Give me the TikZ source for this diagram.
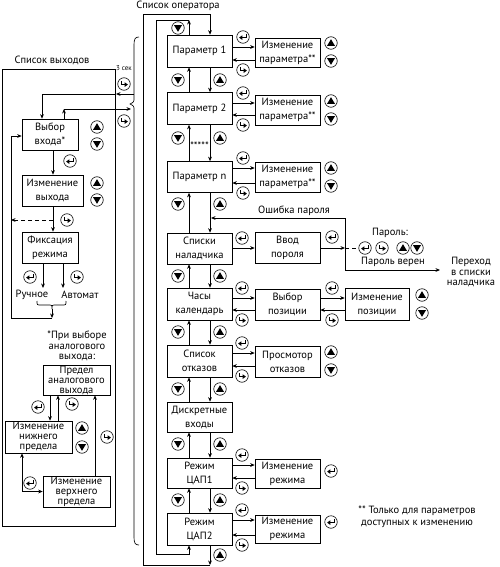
\documentclass[tikz,border=0pt]{standalone}
\usepackage{fontspec}
\setmainfont{PT Sans}
\usetikzlibrary{arrows.meta,calc}
\begin{document}
\begin{tikzpicture}[x=1pt,y=-1pt,
  font=\fontsize{10.5}{14}\selectfont,
  line width=0.65pt,
  >={Stealth[length=4.5pt,width=3.8pt]},
  mb/.style={draw, minimum width=65pt, minimum height=31pt, align=center, inner sep=0pt},
  rb/.style={draw, minimum width=65pt, minimum height=30pt, align=center, inner sep=0pt},
  lbx/.style={draw, minimum width=56pt, minimum height=31pt, align=center, inner sep=0pt},
  pbx/.style={draw, minimum width=67pt, minimum height=31pt, align=center, inner sep=0pt, font=\fontsize{10.5}{10}\selectfont},
  lb/.style={inner sep=0pt, align=center},
  ic/.style={circle, draw, line width=0.6pt, minimum size=12.5pt, inner sep=0pt},
  icu/.style={ic, path picture={\fill[shift={(path picture bounding box.center)}] (0pt,3.8pt) -- (-4pt,-2.9pt) -- (4pt,-2.9pt) -- cycle;}},
  icd/.style={ic, path picture={\fill[shift={(path picture bounding box.center)}] (0pt,-3.8pt) -- (-4pt,2.9pt) -- (4pt,2.9pt) -- cycle;}},
  ice/.style={ic, path picture={\begin{scope}[shift={(path picture bounding box.center)}]
      \draw[line width=0.8pt] (2.9pt,3pt) -- (2.9pt,-0.6pt) -- (-1pt,-0.6pt);
      \fill (-3.9pt,-0.6pt) -- (-0.7pt,1.7pt) -- (-0.7pt,-2.9pt) -- cycle;\end{scope}}},
  icx/.style={ic, path picture={\begin{scope}[shift={(path picture bounding box.center)}]
      \draw[line width=0.8pt] (-2.9pt,3pt) -- (-2.9pt,-0.6pt) -- (1pt,-0.6pt);
      \fill (3.9pt,-0.6pt) -- (0.7pt,1.7pt) -- (0.7pt,-2.9pt) -- cycle;\end{scope}}},
]
\useasboundingbox (0,0) rectangle (499,567);

% ---------- labels ----------
\node[lb] (Lout) at (52,60) {Список выходов};
\node[lb] (Lop) at (178,6) {Список оператора};
\node[lb, font=\fontsize{7}{8}\selectfont] (L3) at (124,68) {3 сек};

% ---------- left frame and brace ----------
\draw (2,69) rectangle (115,526);
\draw (139,37) .. controls (135,37) and (134,39) .. (134,45) -- (134,98)
      .. controls (134,102) .. (130,104) .. controls (134,106) .. (134,110)
      -- (134,537) .. controls (134,543) and (135,545) .. (139,545);
\coordinate (bt1) at (134,94);
\coordinate (bt2) at (131,109);

% ---------- left column ----------
\node[lbx] (Vv) at (50,134.5) {Выбор\\входа*};
\node[lbx, minimum width=61pt] (Iv) at (52.5,190.5) {Изменение\\выхода};
\node[lbx] (Fr) at (50,247.5) {Фиксация\\режима};
\node[icu] (u-Vv) at (97,127) {};
\node[icd] (d-Vv) at (97,144) {};
\node[icu] (u-Iv) at (97,183) {};
\node[icd] (d-Iv) at (97,200) {};
\node[icx] (x-top1) at (124,84) {};
\node[icx] (x-top2) at (124,121) {};
\node[ice] (e-Vv) at (70,161) {};
\node[icx] (x-Iv) at (67,220) {};
\node[ice] (e-Fr) at (30,277) {};
\node[icx] (x-Fr) at (77,277) {};
\node[lb] (Ruch) at (32,295) {Ручное};
\node[lb] (Avt) at (80,295) {Автомат};

\coordinate (m94) at (116,94);
\coordinate (m109) at (64,109);
\draw[->] (bt1) -- (m94);
\draw[->] (m94) -| ([xshift=-8pt]Vv.north);
\draw[->] (Vv.north -| m109) -- (m109);
\draw[->] (m109) -- (bt2);
\draw[->] (Vv.south -| 53,0) -- (Iv.north -| 53,0);
\draw[->] (Iv.south -| 53,0) -- (Fr.north -| 53,0);
\coordinate (dsh) at (53,220);
\coordinate (dshe) at (11,220);
\draw[->, dashed, dash pattern=on 4pt off 3pt] (dsh) -- (dshe);
\coordinate (rA) at (43,288);
\coordinate (rB) at (63,288);
\draw[->] (Fr.south -| rA) -- (rA);
\draw[->] (Fr.south -| rB) -- (rB);
\draw (37,301) .. controls (37,305) .. (41,305) -- (48,305) .. controls (52,305) .. (52,309)
      .. controls (52,305) .. (56,305) -- (62,305) .. controls (66,305) .. (66,301);
\coordinate (brt) at (52,309);
\coordinate (lp) at (52,318);
\draw[->] (brt) -- (lp);
\draw[->] (lp) -- (11,318) -- (11,136) -- (Vv.west |- 0,136);

% ---------- analog output sub-panel ----------
\node[lb, font=\fontsize{10.5}{10.5}\selectfont] (Fn) at (77,346) {*При выборе\\аналогового\\выхода:};
\node[pbx, minimum height=30pt] (Pa) at (76.5,380) {Предел\\аналогового\\выхода};
\node[pbx, minimum height=32pt] (Nn) at (38.5,437) {Изменение\\нижнего\\предела};
\node[pbx] (Vr) at (76.5,491.5) {Изменение\\верхнего\\предела};
\node[ice] (e-Pa) at (38,407) {};
\node[icx] (x-Nn) at (72,404) {};
\node[icu] (u-Nn) at (82,428) {};
\node[icd] (d-Nn) at (82,447) {};
\node[icx] (x-Vr) at (107,437) {};
\node[ice] (e-Vr) at (30,483) {};
\draw[->] (Pa.south -| 50,0) -- (Nn.north -| 50,0);
\draw[->] (Nn.north -| 58,0) -- (Pa.south -| 58,0);
\draw[->] (Vr.north -| 95,0) -- (Pa.south -| 95,0);
\draw[<->] (Nn.south -| 22,0) |- (Vr.west);

% ---------- main column ----------
\node[mb, minimum height=32pt] (P1) at (199.5,51) {Параметр 1};
\node[mb, minimum height=32pt] (P2) at (199.5,108.5) {Параметр 2};
\node[mb] (Pn) at (199.5,177) {Параметр n};
\node[mb] (Sn) at (199.5,248.5) {Списки\\наладчика};
\node[mb, minimum height=32pt] (Ch) at (199.5,304) {Часы\\календарь};
\node[mb, minimum height=32pt] (So) at (199.5,361) {Список\\отказов};
\node[mb, minimum height=30pt] (Di) at (199.5,417) {Дискретные\\входы};
\node[mb, minimum height=30pt] (C1) at (199.5,473) {Режим\\ЦАП1};
\node[mb, minimum height=32pt] (C2) at (199.5,529) {Режим\\ЦАП2};
\node[lb, font=\fontsize{10.5}{10.5}\selectfont] (stars) at (199.5,146) {*****};

\foreach \a/\b in {P1/P2,P2/Pn,Pn/Sn,Sn/Ch,Ch/So,So/Di,Di/C1,C1/C2} {
  \draw[->] ([xshift=-10.5pt]\b.north) -- ([xshift=-10.5pt]\a.south);
  \draw[->] ([xshift=10.5pt]\a.south) -- ([xshift=10.5pt]\b.north);
}
\foreach \n/\y in {1/80,2/138,3/204,4/276,5/332,6/389,7/444,8/500} {
  \node[icd] (dm\n) at (178,\y) {};
  \node[icu] (um\n) at (220,\y) {};
}
\node[icd] (dm0) at (178,28) {};
\node[icu] (um9) at (220,555) {};

% outer loops
\coordinate (ob) at (210,565);
\coordinate (ib) at (189,20);
\draw[->] ([xshift=10.5pt]C2.south) -- (ob);
\draw[->] (ob) -- (143,565) -- (143,14) -- (210,14) -- ([xshift=10.5pt]P1.north);
\draw[->] ([xshift=-10.5pt]P1.north) -- (ib);
\draw[->] (ib) -- (156,20) -- (156,554) -- (189,554) -- ([xshift=-10.5pt]C2.south);

% ---------- right boxes ----------
\node[rb, minimum height=29pt] (E1) at (287.5,52.5) {Изменение\\параметра**};
\node[rb] (E2) at (287.5,110) {Изменение\\параметра**};
\node[rb] (En) at (287.5,177) {Изменение\\параметра**};
\node[rb, minimum height=31pt] (Vp) at (287.5,247.5) {Ввод\\пороля};
\node[rb, minimum height=31pt] (Vy) at (287.5,304.5) {Выбор\\позиции};
\node[rb, minimum height=31pt] (Pr) at (287.5,361.5) {Просмотор\\отказов};
\node[rb, minimum height=29pt] (R1) at (287.5,473.5) {Изменение\\режима};
\node[rb, minimum height=28pt] (R2) at (287.5,529) {Изменение\\режима};
\node[rb, minimum width=64pt, minimum height=32pt] (Ip) at (377,304) {Изменение\\позиции};

\foreach \a/\b/\u/\d/\mx in {P1/E1/47/60/243, P2/E2/103/115/243, Pn/En/168/183/243,
    Ch/Vy/298/310/242, So/Pr/353/366/242, C1/R1/465/478/242, C2/R2/520/535/242, Vy/Ip/298/310/332} {
  \draw[->] (\a.east |- 0,\u) -- (\b.west |- 0,\u);
  \draw[->] (\b.west |- 0,\d) -- (\a.east |- 0,\d);
  \node[ice] (e-\b) at (\mx,\u-10) {};
  \node[icx] (x-\b) at (\mx,\d+10) {};
}
\foreach \b/\y in {E1/52, E2/110, En/177, Pr/361} {
  \node[icu] (u-\b) at (331,\y-9) {};
  \node[icd] (d-\b) at (331,\y+9) {};
}
\node[icu] (u-Ip) at (422,295) {};
\node[icd] (d-Ip) at (422,313) {};
\node[ice] (e-R1x) at (331,471) {};
\node[ice] (e-R2x) at (331,522) {};

% ---------- password ----------
\draw[->] (Sn.east |- 0,248) -- (Vp.west |- 0,248);
\node[ice] (e-Vp) at (242,238) {};
\coordinate (pj) at (345,248);
\draw[->] (Vp.east |- pj) -- (pj);
\node[ice] (e-pj) at (332,237) {};
\draw[dashed, dash pattern=on 4pt off 3pt] (pj) -- (358,248);
\node[ice] (pw1) at (365,248) {};
\node[icx] (pw2) at (382,248) {};
\node[icu] (pw3) at (403,248) {};
\node[icd] (pw4) at (417,248) {};
\node[lb] (Lpw) at (390,233) {Пароль:};
\node[lb] (Lok) at (393,262) {Пароль верен};
\node[lb] (Lerr) at (294,211) {Ошибка пароля};
\node[lb, font=\fontsize{10.5}{10.5}\selectfont] (Lgo) at (471,272) {Переход\\в списки\\наладчика};
\coordinate (pe1) at (345,218);
\coordinate (pe2) at (211,218);
\coordinate (pk1) at (345,270);
\coordinate (pk2) at (440,270);
\draw (pe1) -- (pk1);
\draw[->] (pe1) -- (pe2);
\draw[->] (pk1) -- (pk2);

% ---------- footnote ----------
\node[lb, font=\fontsize{10.5}{12.5}\selectfont] (Fn2) at (417,517) {** Только для параметров\\доступных к изменению};
\end{tikzpicture}
\end{document}
